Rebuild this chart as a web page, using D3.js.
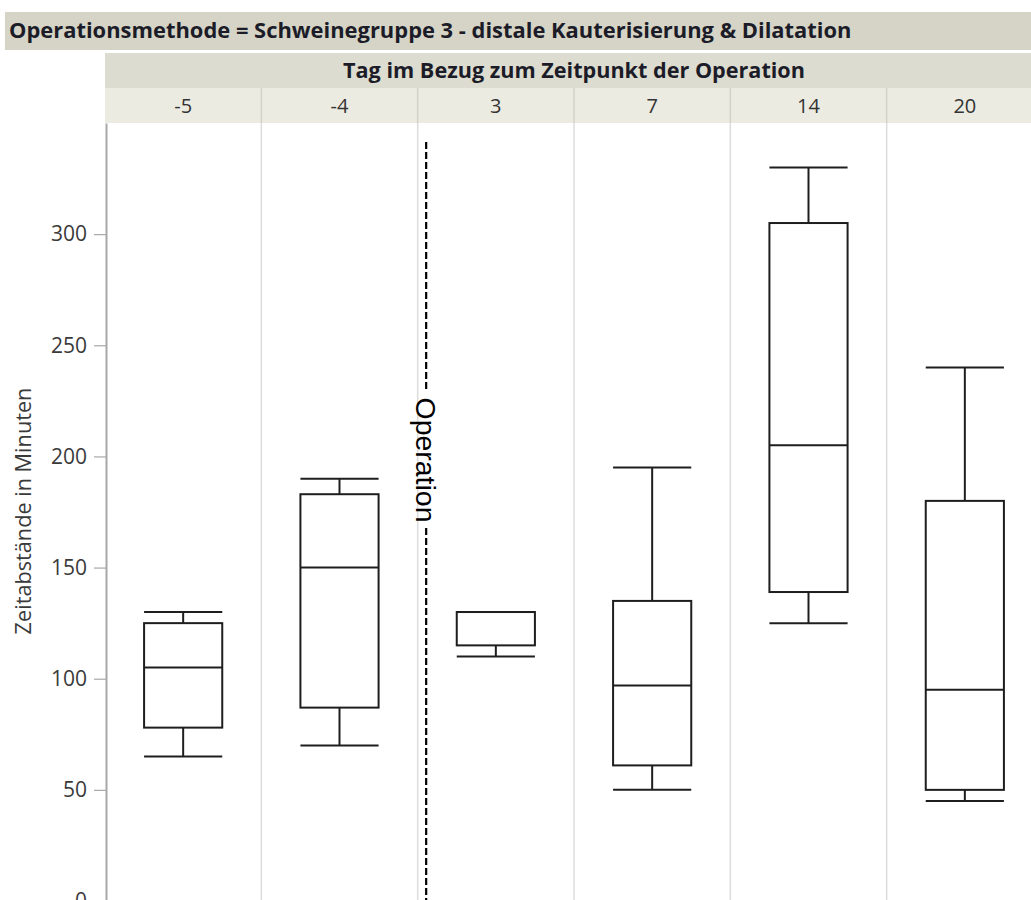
<!DOCTYPE html>
<html>
<head>
<meta charset="utf-8">
<script src="https://cdn.jsdelivr.net/npm/d3@7"></script>
<style>
  html, body { margin: 0; padding: 0; background: #ffffff; }
  svg { display: block; }
</style>
</head>
<body>
<svg id="chart" width="1031" height="900"></svg>
<script>
// Days relative to the operation (one panel column each)
const categories = ["-5", "-4", "3", "7", "14", "20"];
// Box plot statistics of the time intervals in minutes
const whiskerLow  = [65, 70, 110, 50, 125, 45];
const quartile1   = [78, 87, 115, 61, 139, 50];
const medians     = [105, 150, 130, 97, 205, 95];
const quartile3   = [125, 183, 130, 135, 305, 180];
const whiskerHigh = [130, 190, 130, 195, 330, 240];
const yTicks = [0, 50, 100, 150, 200, 250, 300];

const groupTitle = "Operationsmethode = Schweinegruppe 3 - distale Kauterisierung & Dilatation";
const xTitle = "Tag im Bezug zum Zeitpunkt der Operation";
const yTitle = "Zeitabstände in Minuten";
const markerLabel = "Operation";

const svg = d3.select("#chart");
const font = "'Open Sans', 'Noto Sans', sans-serif";

const plotLeft = 105, plotRight = 1043, plotTop = 123, plotBottom = 901;

const x = d3.scaleBand().domain(categories).range([plotLeft, plotRight]).padding(0);
const y = d3.scaleLinear().domain([0, 350]).range([plotBottom, plotTop]);

// scale a text's font size so it spans the given width
function fitWidth(sel, target) {
  const size = parseFloat(sel.attr("font-size"));
  const w = sel.node().getComputedTextLength();
  sel.attr("font-size", (size * target / w).toFixed(2));
}

// ---- header bands ----
svg.append("rect").attr("x", 5).attr("y", 12).attr("width", 1031 - 5).attr("height", 38)
  .attr("fill", "#d5d4c6");
const gt = svg.append("text").attr("x", 9).attr("y", 38)
  .attr("font-family", font).attr("font-weight", "bold").attr("font-size", 19)
  .attr("fill", "#1c1c28").text(groupTitle);
fitWidth(gt, 843);

svg.append("rect").attr("x", plotLeft).attr("y", 53).attr("width", 1031 - plotLeft).attr("height", 35)
  .attr("fill", "#dddcd0");
const xt = svg.append("text").attr("x", (plotLeft + plotRight) / 2).attr("y", 78)
  .attr("text-anchor", "middle")
  .attr("font-family", font).attr("font-weight", "bold").attr("font-size", 18)
  .attr("fill", "#1c1c28").text(xTitle);
fitWidth(xt, 462);

svg.append("rect").attr("x", plotLeft).attr("y", 88).attr("width", 1031 - plotLeft).attr("height", 35)
  .attr("fill", "#ecebe2");
svg.append("g").selectAll("text").data(categories).join("text")
  .attr("x", d => x(d) + x.bandwidth() / 2)
  .attr("y", 113)
  .attr("text-anchor", "middle")
  .attr("font-family", font).attr("font-size", 20)
  .attr("fill", "#333333")
  .text(d => d);

// column separators (header row and plot area)
const seps = categories.slice(1);
svg.append("g").selectAll("line").data(seps).join("line")
  .attr("x1", d => x(d)).attr("x2", d => x(d))
  .attr("y1", 88).attr("y2", plotTop)
  .attr("stroke", "#d4d3c8").attr("stroke-width", 1.5);
svg.append("g").selectAll("line").data(seps).join("line")
  .attr("x1", d => x(d)).attr("x2", d => x(d))
  .attr("y1", plotTop).attr("y2", 900)
  .attr("stroke", "#dcdcdc").attr("stroke-width", 1.5);

// ---- y axis ----
const yAxis = svg.append("g")
  .attr("transform", `translate(${plotLeft + 1},0)`)
  .call(d3.axisLeft(y).tickValues(yTicks).tickSize(12).tickPadding(7).tickSizeOuter(0));
yAxis.select(".domain").attr("stroke", "#a8a8a8").attr("stroke-width", 2);
yAxis.selectAll(".tick line").attr("stroke", "#a8a8a8").attr("stroke-width", 1.2);
yAxis.selectAll(".tick text")
  .attr("font-family", font).attr("font-size", 21).attr("fill", "#3a3a3a");

const yt = svg.append("text")
  .attr("transform", "translate(22,511) rotate(-90)")
  .attr("text-anchor", "middle").attr("dominant-baseline", "central")
  .attr("font-family", font).attr("font-size", 16).attr("fill", "#3a3a3a")
  .text(yTitle);
fitWidth(yt, 247);

// ---- box plots ----
const rows = categories.map((c, i) => ({
  cat: c, lo: whiskerLow[i], q1: quartile1[i], med: medians[i], q3: quartile3[i], hi: whiskerHigh[i]
}));
const boxW = x.bandwidth() * 0.5;
const g = svg.append("g").attr("fill", "none").attr("stroke", "#1e1e1e").attr("stroke-width", 2);
const box = g.selectAll("g").data(rows).join("g")
  .attr("transform", d => `translate(${x(d.cat) + x.bandwidth() / 2},0)`);

box.append("line")
  .attr("x1", 0).attr("x2", 0).attr("y1", d => y(d.hi)).attr("y2", d => y(d.q3));
box.append("line")
  .attr("x1", 0).attr("x2", 0).attr("y1", d => y(d.q1)).attr("y2", d => y(d.lo));
box.append("line")
  .attr("x1", -boxW / 2).attr("x2", boxW / 2).attr("y1", d => y(d.hi)).attr("y2", d => y(d.hi));
box.append("line")
  .attr("x1", -boxW / 2).attr("x2", boxW / 2).attr("y1", d => y(d.lo)).attr("y2", d => y(d.lo));
box.append("rect")
  .attr("x", -boxW / 2).attr("width", boxW)
  .attr("y", d => y(d.q3)).attr("height", d => y(d.q1) - y(d.q3))
  .attr("fill", "#ffffff");
box.append("line")
  .attr("x1", -boxW / 2).attr("x2", boxW / 2).attr("y1", d => y(d.med)).attr("y2", d => y(d.med));

// ---- operation marker between day -4 and day 3 ----
const opX = x("3") + 8.5;
const labelTop = 392, labelBottom = 528;
const dash = svg.append("g").attr("stroke", "#000").attr("stroke-width", 2.2)
  .attr("stroke-dasharray", "7,3");
dash.append("line").attr("x1", opX).attr("x2", opX).attr("y1", 142).attr("y2", labelTop);
dash.append("line").attr("x1", opX).attr("x2", opX).attr("y1", labelBottom).attr("y2", 900);
const ml = svg.append("text")
  .attr("transform", `translate(${opX},${(labelTop + labelBottom) / 2}) rotate(90)`)
  .attr("text-anchor", "middle").attr("dominant-baseline", "central")
  .attr("font-family", "'Liberation Sans', Arial, sans-serif").attr("font-size", 26)
  .attr("fill", "#000").text(markerLabel);
fitWidth(ml, 125);
</script>
</body>
</html>
